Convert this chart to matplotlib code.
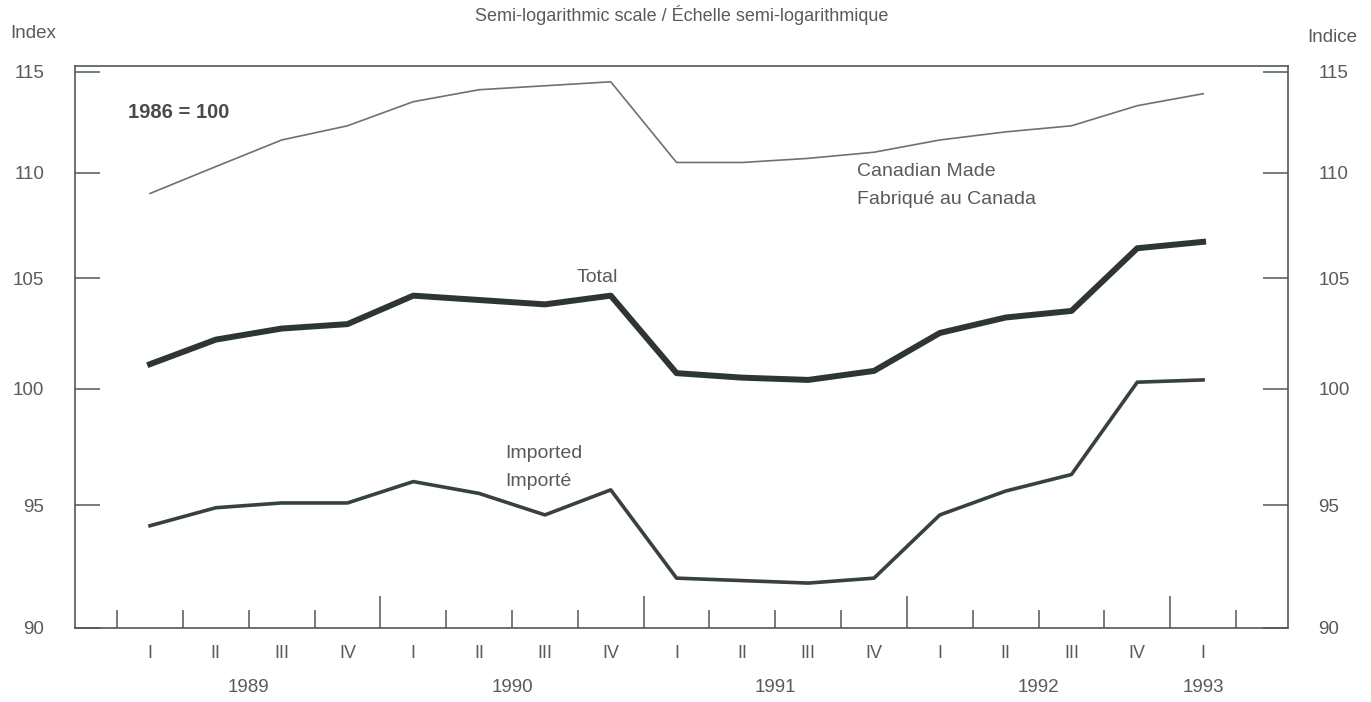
"""
Price indexes of Canadian made, imported and total goods, 1989-1993 (semi-log).
"""

import matplotlib.pyplot as plt
from matplotlib.ticker import FixedLocator, NullLocator, FixedFormatter

plt.rcParams["font.family"] = ["Liberation Sans", "DejaVu Sans"]

# quarterly values, 1989 I to 1993 I
quarters = ["I", "II", "III", "IV"] * 4 + ["I"]
years = ["1989", "1990", "1991", "1992", "1993"]
year_pos = [1.5, 5.5, 9.5, 13.5, 16]

canadian = [109.0, 110.3, 111.6, 112.3, 113.5, 114.1, 114.3, 114.5, 110.5,
            110.5, 110.7, 111.0, 111.6, 112.0, 112.3, 113.3, 113.9]
total = [101.1, 102.2, 102.7, 102.9, 104.2, 104.0, 103.8, 104.2, 100.7,
         100.5, 100.4, 100.8, 102.5, 103.2, 103.5, 106.4, 106.7]
imported = [94.15, 94.9, 95.1, 95.1, 96.0, 95.5, 94.6, 95.65, 92.0,
            91.9, 91.8, 92.0, 94.6, 95.6, 96.3, 100.3, 100.4]

y_ticks = [90, 95, 100, 105, 110, 115]

text_col = "#5a5a5a"
frame_col = "#505a55"

fig = plt.figure(figsize=(13.71, 7.02), dpi=100)
ax = fig.add_axes([75 / 1371, 1 - 628 / 702, (1288 - 75) / 1371, (628 - 66) / 702])

x = list(range(len(quarters)))
ax.plot(x, canadian, color="#707070", lw=1.2, solid_joinstyle="round")
ax.plot(x, total, color="#2e3632", lw=4.3, solid_joinstyle="round")
ax.plot(x, imported, color="#38423d", lw=2.6, solid_joinstyle="round")

ax.set_yscale("log")
ax.set_ylim(90, 115.3)
ax.set_xlim(-1.14, 17.29)

for s in ax.spines.values():
    s.set_color(frame_col)
    s.set_linewidth(1.2)

# y axis: inward ticks, labels on both sides
ax.yaxis.set_major_locator(FixedLocator(y_ticks))
ax.yaxis.set_major_formatter(FixedFormatter([str(v) for v in y_ticks]))
ax.yaxis.set_minor_locator(NullLocator())
ax.tick_params(axis="y", which="both", direction="in", length=18, width=1.1,
               color=frame_col, left=True, right=True, labelleft=True,
               labelright=True, labelsize=13.5, labelcolor=text_col, pad=22)

# x axis: quarter boundaries, long ticks at year boundaries
ax.set_xticks([3.5, 7.5, 11.5, 15.5])
ax.set_xticks([k - 0.5 for k in range(18) if k not in (4, 8, 12, 16)], minor=True)
ax.tick_params(axis="x", which="major", direction="in", length=23, width=1.1,
               color=frame_col, labelbottom=False)
ax.tick_params(axis="x", which="minor", direction="in", length=13, width=1.1,
               color=frame_col, labelbottom=False)

trans = ax.get_xaxis_transform()
for i, q in enumerate(quarters):
    ax.text(i, -0.046, q, transform=trans, ha="center", va="center",
            fontsize=13, color=text_col, clip_on=False)
for p, yr in zip(year_pos, years):
    ax.text(p, -0.105, yr, transform=trans, ha="center", va="center",
            fontsize=13.5, color=text_col, clip_on=False)

# labels in the plot
fig.text(128 / 1371, 1 - 112 / 702, "1986 = 100", fontsize=14.5, fontweight="bold",
         color="#4a4a4a", va="center", ha="left")
fig.text(857 / 1371, 1 - 172 / 702, "Canadian Made", fontsize=14, color=text_col,
         va="center", ha="left")
fig.text(857 / 1371, 1 - 200 / 702, "Fabriqué au Canada", fontsize=14, color=text_col,
         va="center", ha="left")
fig.text(597 / 1371, 1 - 277 / 702, "Total", fontsize=14, color=text_col,
         va="center", ha="center")
fig.text(505 / 1371, 1 - 454 / 702, "Imported", fontsize=14, color=text_col,
         va="center", ha="left")
fig.text(505 / 1371, 1 - 482 / 702, "Importé", fontsize=14, color=text_col,
         va="center", ha="left")

fig.text(682 / 1371, 1 - 15 / 702, "Semi-logarithmic scale / Échelle semi-logarithmique",
         fontsize=13, color=text_col, ha="center", va="center")
fig.text(10 / 1371, 1 - 33 / 702, "Index", fontsize=13.5, color=text_col,
         ha="left", va="center")
fig.text(1357 / 1371, 1 - 38 / 702, "Indice", fontsize=13.5, color=text_col,
         ha="right", va="center")

fig.savefig("out.png", dpi=100, facecolor="white")
